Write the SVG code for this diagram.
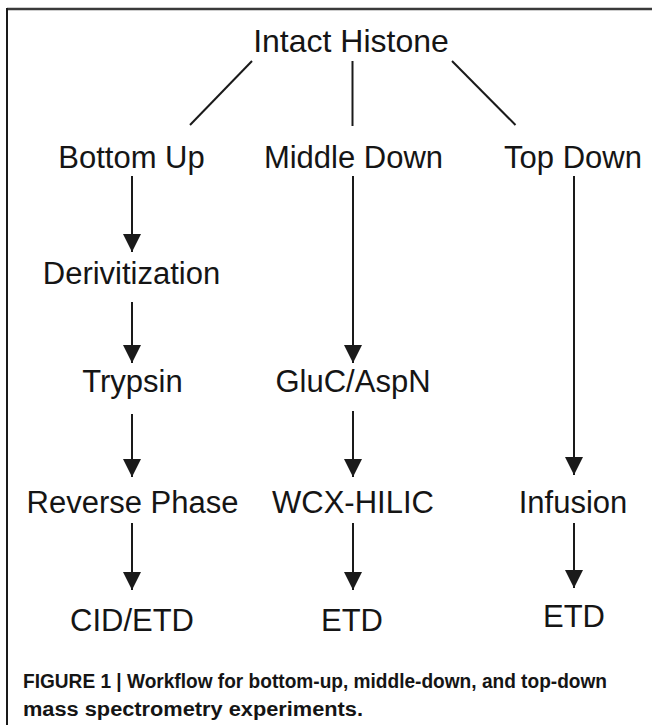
<svg xmlns="http://www.w3.org/2000/svg" width="652" height="725" viewBox="0 0 652 725">
  <style>
    .lbl { font-family: "Liberation Sans", Arial, Helvetica, sans-serif; font-size: 31px; fill: #151515; text-anchor: middle; }
    .cap { font-family: "Liberation Sans", Arial, Helvetica, sans-serif; font-size: 20px; font-weight: bold; fill: #151515; }
    .ln { stroke: #1a1a1a; stroke-width: 2; fill: none; }
    .arr { stroke: #1a1a1a; stroke-width: 2; fill: none; marker-end: url(#head); }
  </style>
  <defs>
    <marker id="head" markerUnits="userSpaceOnUse" markerWidth="19" markerHeight="19" viewBox="0 -9.5 18 19" refX="18" refY="0" orient="auto">
      <path d="M0,-9 L18,0 L0,9 z" fill="#1a1a1a"/>
    </marker>
  </defs>
  <rect width="652" height="725" fill="#ffffff"/>
  <g id="frame">
    <line x1="7" y1="9" x2="652" y2="9" stroke="#3a3a3a" stroke-width="2.5"/>
    <line x1="7" y1="8" x2="7" y2="725" stroke="#1a1a1a" stroke-width="2"/>
  </g>
  <g id="connectors">
    <line class="ln" x1="252" y1="61" x2="190" y2="125"/>
    <line class="ln" x1="352.5" y1="61" x2="352.5" y2="126"/>
    <line class="ln" x1="452" y1="61" x2="515.5" y2="125"/>
    <line class="arr" x1="132" y1="176" x2="132" y2="252"/>
    <line class="arr" x1="132" y1="302" x2="132" y2="363"/>
    <line class="arr" x1="132" y1="414" x2="132" y2="477"/>
    <line class="arr" x1="132" y1="523" x2="132" y2="590"/>
    <line class="arr" x1="353" y1="176" x2="353" y2="363"/>
    <line class="arr" x1="353" y1="411" x2="353" y2="477"/>
    <line class="arr" x1="353" y1="523" x2="353" y2="590"/>
    <line class="arr" x1="574" y1="176" x2="574" y2="475"/>
    <line class="arr" x1="574" y1="523" x2="574" y2="588"/>
  </g>
  <g id="intact-histone"><text class="lbl" x="351" y="52" style="font-size:32px">Intact Histone</text></g>
  <g id="bottom-up"><text class="lbl" x="131.5" y="168">Bottom Up</text></g>
  <g id="middle-down"><text class="lbl" x="353.5" y="168">Middle Down</text></g>
  <g id="top-down"><text class="lbl" x="573" y="168">Top Down</text></g>
  <g id="derivitization"><text class="lbl" x="131.5" y="284">Derivitization</text></g>
  <g id="trypsin"><text class="lbl" x="132.5" y="392">Trypsin</text></g>
  <g id="gluc-aspn"><text class="lbl" x="353" y="392">GluC/AspN</text></g>
  <g id="reverse-phase"><text class="lbl" x="132.5" y="513">Reverse Phase</text></g>
  <g id="wcx-hilic"><text class="lbl" x="353" y="513">WCX-HILIC</text></g>
  <g id="infusion"><text class="lbl" x="573" y="513">Infusion</text></g>
  <g id="cid-etd"><text class="lbl" x="132" y="631">CID/ETD</text></g>
  <g id="etd-middle"><text class="lbl" x="352" y="631">ETD</text></g>
  <g id="etd-right"><text class="lbl" x="574" y="627">ETD</text></g>
  <g id="caption">
    <text class="cap" x="23" y="688" textLength="584" lengthAdjust="spacingAndGlyphs">FIGURE 1 | Workflow for bottom-up, middle-down, and top-down</text>
    <text class="cap" x="23" y="716" textLength="340" lengthAdjust="spacingAndGlyphs">mass spectrometry experiments.</text>
  </g>
</svg>
